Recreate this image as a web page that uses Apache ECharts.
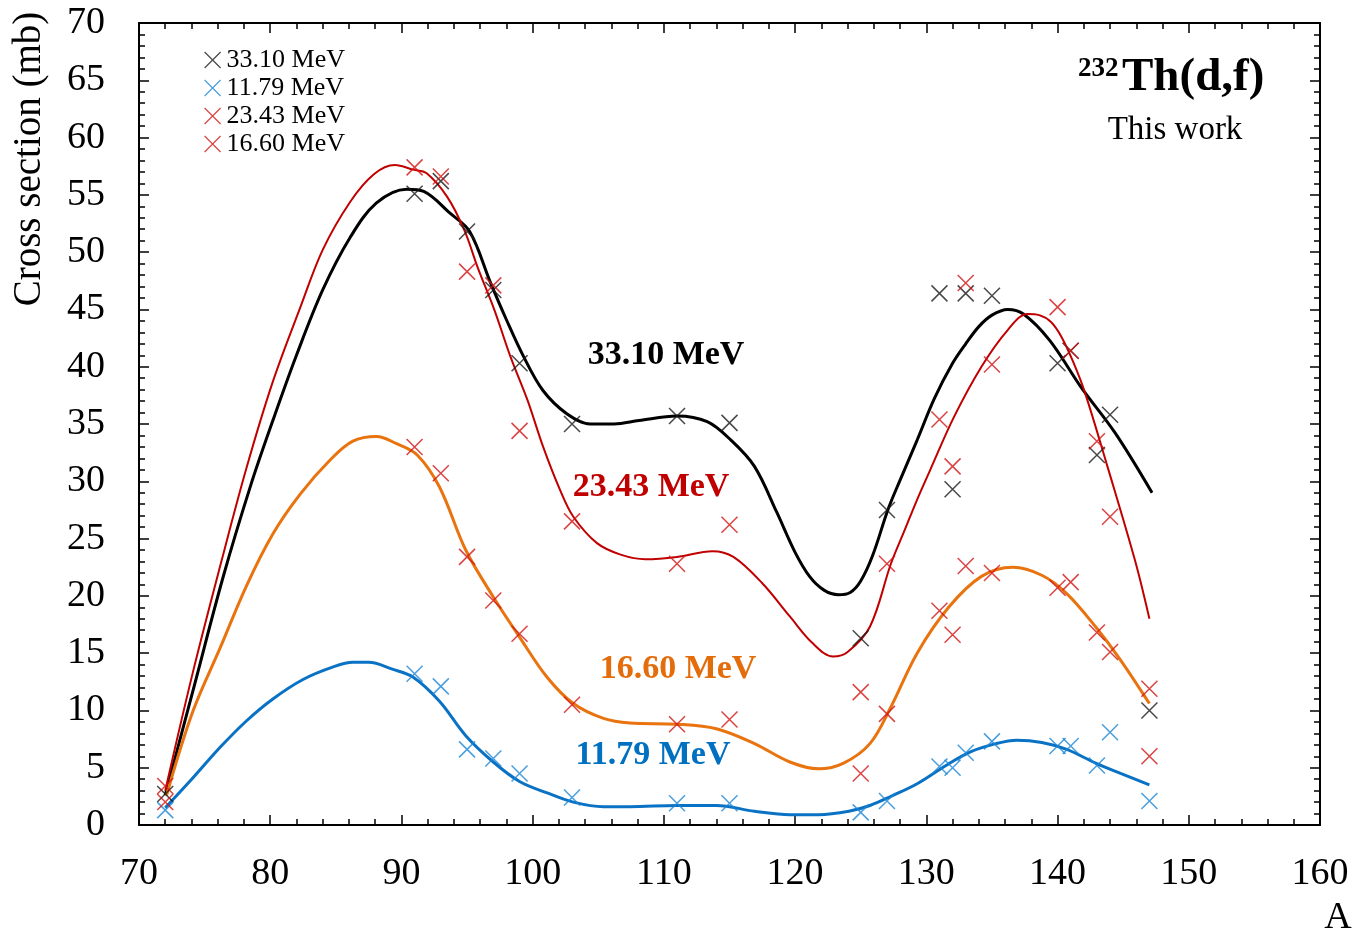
<!DOCTYPE html>
<html><head><meta charset="utf-8">
<script src="https://cdn.jsdelivr.net/npm/echarts@6/dist/echarts.min.js"></script>
<style>html,body{margin:0;padding:0;background:#fff}#c{width:1356px;height:937px}</style>
</head><body><div id="c"></div>
<script>
// Measured mass numbers and cross sections (mb)
const massNumbers = [72,91,93,95,97,99,103,111,115,125,127,131,132,133,135,140,141,143,144,147];
const xs3310 = [2.7,55.1,56.2,51.8,46.7,40.3,35.0,35.7,35.1,16.3,27.5,46.4,29.3,46.4,46.2,40.3,41.4,32.3,35.8,10.0];
const xs2343 = [3.4,57.4,56.6,48.3,47.1,34.4,26.5,22.8,26.2,11.6,22.8,35.4,31.3,47.3,40.2,45.2,41.4,33.5,26.9,11.9];
const xs1660 = [2.0,33.0,30.7,23.4,19.6,16.7,10.5,8.8,9.2,4.5,9.7,18.7,16.6,22.6,22.0,20.7,21.2,16.8,15.1,6.0];
const xs1179 = [1.3,13.2,12.1,6.6,5.8,4.5,2.4,1.9,1.9,1.1,2.1,5.1,5.0,6.3,7.3,6.9,6.9,5.2,8.1,2.1];

// Fitted curves
const fit3310A = [72,74.2,76.4,78.5,80.2,82.0,84.0,86.1,88.1,90.4,91.7,93.7,95.2,96.8,98.0,99.3,100.8,102.6,104.4,106.2,108.1,111.0,113.3,115.1,116.9,118.6,120.0,121.1,122.2,123.3,124.2,125.0,125.9,127.1,128.0,129.3,130.6,132.0,133.0,134.0,135.0,136.2,137.4,139.4,141.8,144.4,147.2];
const fit3310V = [2.6,12.1,21.6,29.6,35.3,41.0,46.7,51.3,54.3,55.5,55.3,53.4,51.8,47.3,44.1,40.9,37.9,35.9,35.0,35.0,35.3,35.7,35.2,33.6,31.3,27.3,23.8,21.7,20.5,20.1,20.3,21.3,23.5,27.6,30.1,33.6,37.2,40.3,42.0,43.5,44.5,45.0,44.6,42.3,38.2,34.2,29.0];
const fit2343A = [72,74.1,76.3,78.2,80.2,82.3,84.0,86.1,87.9,89.5,90.9,91.9,93.5,94.8,95.8,97.1,98.3,99.6,100.8,102.1,103.1,104.9,106.7,108.6,111.0,113.7,115.3,117.5,119.6,121.3,122.9,124.0,125.7,127.3,128.3,129.3,130.3,132.1,134.2,136.2,137.7,138.6,139.5,140.3,141.2,142.1,143.8,145.9,147.0];
const fit2343V = [3.0,13.3,23.1,31.2,38.7,45.2,50.2,54.4,56.8,57.6,57.2,56.9,54.8,51.9,48.7,44.9,40.9,37.1,33.0,29.2,26.9,24.6,23.6,23.2,23.4,23.9,23.4,21.1,18.2,15.9,14.7,15.1,17.3,22.8,25.6,28.4,31.0,35.6,40.0,43.2,44.6,44.5,43.9,42.6,40.4,37.7,31.3,23.1,18.0];
const fit1660A = [72.1,74.1,76.2,78.2,80.2,82.3,84.6,86.3,88.1,89.6,91.2,92.9,94.9,97.0,99.0,101.1,103.1,105.4,107.4,111.0,114.0,116.9,119.6,121.8,123.7,125.7,127.3,129.3,131.7,134.2,136.6,138.8,140.7,142.9,144.8,147.0];
const fit1660V = [2.6,9.9,15.5,20.9,25.4,28.9,31.9,33.5,33.9,33.3,32.3,29.5,24.0,19.9,16.4,12.9,10.6,9.3,8.9,8.8,8.4,7.1,5.5,4.9,5.4,7.1,10.3,15.0,19.0,21.7,22.5,21.8,20.2,17.3,14.4,10.6];
const fit1179A = [72,74.1,76.2,78.2,80.2,82.5,84.8,86.3,87.5,89.3,90.9,92.9,94.9,97.0,99.0,101.1,103.1,105.4,107.4,111.0,114.0,116.9,119.6,121.8,124.1,125.7,127.3,129.3,131.5,133.4,135.3,136.9,138.8,140.7,142.9,144.8,147.0];
const fit1179V = [1.5,4.1,6.8,9.1,11.0,12.7,13.8,14.2,14.2,13.6,12.9,10.8,7.8,5.5,3.8,2.8,2.0,1.6,1.6,1.7,1.7,1.2,0.9,0.9,1.2,1.7,2.5,3.6,5.2,6.4,7.1,7.4,7.2,6.6,5.4,4.5,3.5];

const seriesNames = ['33.10 MeV','11.79 MeV','23.43 MeV','16.60 MeV'];
const xTicks = {min:70, max:160, step:10};
const yTicks = {min:0, max:70, step:5};

const FONT = '"Liberation Serif","Times New Roman",serif';
const CROSS = 'path://M0,0L10,10M10,0L0,10';
const markerColors = {'33.10 MeV':'#1a1a1a','11.79 MeV':'#1b86d6','23.43 MeV':'#d21414','16.60 MeV':'#d21414'};
const pairs = (a, b) => a.map((x, i) => [x, b[i]]);

const chart = echarts.init(document.getElementById('c'), null, {renderer:'canvas'});

function scatter(name, vals){
  return {
    type:'scatter', name, z:5,
    symbol: CROSS, symbolSize: 16,
    itemStyle:{color:'rgba(0,0,0,0)', borderColor: markerColors[name], borderWidth:1.5},
    emphasis:{disabled:true},
    data: pairs(massNumbers, vals)
  };
}
function curve(name, A, V, color, width){
  return {
    type:'line', name, z:3, smooth:0.35, showSymbol:false, symbol:'none',
    lineStyle:{color, width}, emphasis:{disabled:true},
    data: pairs(A, V)
  };
}

const axisCommon = {
  type:'value', splitLine:{show:false},
  axisLine:{show:true, onZero:false, lineStyle:{color:'#000', width:2}},
  axisTick:{show:true, inside:true, length:10, lineStyle:{color:'#000', width:1.5}},
  minorTick:{show:true, splitNumber:5, length:6, lineStyle:{color:'#000', width:1.5}},
};

chart.setOption({
  animation:false,
  backgroundColor:'#fff',
  grid:{left:139, right:36, top:23, bottom:112, containLabel:false},
  xAxis:[
    Object.assign({}, axisCommon, {position:'bottom', min:xTicks.min, max:xTicks.max, interval:xTicks.step,
      axisLabel:{show:true, fontFamily:FONT, fontSize:38, color:'#000', margin:30}}),
    Object.assign({}, axisCommon, {position:'top', min:xTicks.min, max:xTicks.max, interval:xTicks.step,
      axisLabel:{show:false}})
  ],
  yAxis:[
    Object.assign({}, axisCommon, {position:'left', min:yTicks.min, max:yTicks.max, interval:yTicks.step,
      axisLabel:{show:true, fontFamily:FONT, fontSize:38, color:'#000', margin:34}}),
    Object.assign({}, axisCommon, {position:'right', min:yTicks.min, max:yTicks.max, interval:yTicks.step,
      axisLabel:{show:false}})
  ],
  legend:{
    show:true, orient:'vertical', left:199, top:42, itemGap:2,
    itemWidth:16, itemHeight:16, selectedMode:false,
    textStyle:{fontFamily:FONT, fontSize:26, color:'#000', padding:[0,0,0,1]},
    data: seriesNames.map(n => ({name:n, icon:CROSS,
      itemStyle:{color:'rgba(0,0,0,0)', borderColor:markerColors[n], borderWidth:1.2}}))
  },
  series:[
    curve('fit 33.10', fit3310A, fit3310V, '#000000', 3),
    curve('fit 23.43', fit2343A, fit2343V, '#c00000', 2),
    curve('fit 16.60', fit1660A, fit1660V, '#e8730f', 3),
    curve('fit 11.79', fit1179A, fit1179V, '#0a72c4', 3),
    scatter('33.10 MeV', xs3310),
    scatter('11.79 MeV', xs1179),
    scatter('23.43 MeV', xs2343),
    scatter('16.60 MeV', xs1660)
  ],
  graphic:[
    {type:'text', x:30, y:159, rotation:Math.PI/2,
      style:{text:'Cross section (mb)', font:'39px '+FONT, fill:'#000', textAlign:'center', textVerticalAlign:'middle'}},
    {type:'text', x:1338, y:918,
      style:{text:'A', font:'38px '+FONT, fill:'#000', textAlign:'center', textVerticalAlign:'middle'}},
    {type:'text', x:1078, y:69,
      style:{text:'232', font:'bold 27px '+FONT, fill:'#000', textAlign:'left', textVerticalAlign:'middle'}},
    {type:'text', x:1122, y:78,
      style:{text:'Th(d,f)', font:'bold 47px '+FONT, fill:'#000', textAlign:'left', textVerticalAlign:'middle'}},
    {type:'text', x:1175, y:130,
      style:{text:'This work', font:'33px '+FONT, fill:'#000', textAlign:'center', textVerticalAlign:'middle'}},
    {type:'text', x:666, y:355,
      style:{text:'33.10 MeV', font:'bold 34px '+FONT, fill:'#000', textAlign:'center', textVerticalAlign:'middle'}},
    {type:'text', x:651, y:487,
      style:{text:'23.43 MeV', font:'bold 34px '+FONT, fill:'#c00000', textAlign:'center', textVerticalAlign:'middle'}},
    {type:'text', x:678, y:669,
      style:{text:'16.60 MeV', font:'bold 34px '+FONT, fill:'#e46c0a', textAlign:'center', textVerticalAlign:'middle'}},
    {type:'text', x:653, y:755,
      style:{text:'11.79 MeV', font:'bold 34px '+FONT, fill:'#0070c0', textAlign:'center', textVerticalAlign:'middle'}}
  ]
});
</script>
</body></html>
